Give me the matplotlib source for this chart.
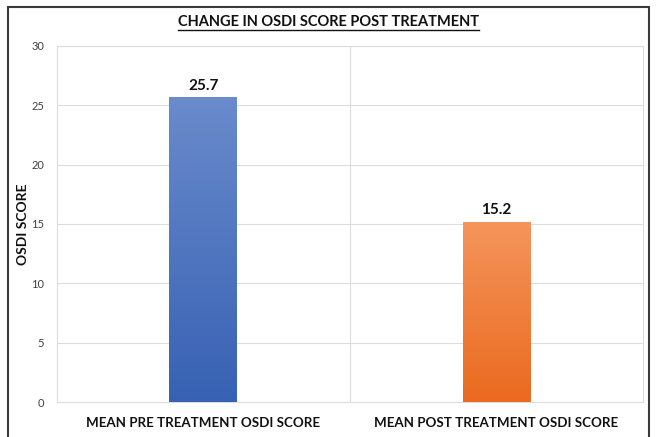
import numpy as np
import matplotlib.pyplot as plt
from matplotlib.colors import LinearSegmentedColormap
from matplotlib.patches import Rectangle

categories = ["MEAN PRE TREATMENT OSDI SCORE", "MEAN POST TREATMENT OSDI SCORE"]
scores = [25.7, 15.2]
yticks = [0, 5, 10, 15, 20, 25, 30]

# light top -> dark bottom, like the Excel gradient fill
gradients = [("#3761b3", "#6a8bcc"), ("#ea6a1f", "#f4955c")]

plt.rcParams["font.family"] = ["Lato", "DejaVu Sans"]

fig = plt.figure(figsize=(6.58, 4.37), dpi=100)
ax = fig.add_axes([0.086, 0.080, 0.891, 0.815])

x = np.arange(len(categories))
bars = ax.bar(x, scores, width=0.23, color="none", zorder=3)

# gradient fill clipped to each bar
for bar, (dark, light) in zip(bars, gradients):
    cmap = LinearSegmentedColormap.from_list("g", [dark, light])
    grad = np.linspace(0, 1, 256).reshape(-1, 1)
    x0, w, h = bar.get_x(), bar.get_width(), bar.get_height()
    im = ax.imshow(grad, cmap=cmap, origin="lower", aspect="auto",
                   extent=[x0, x0 + w, 0, h], zorder=3)
    im.set_clip_path(bar)

for bar, score in zip(bars, scores):
    ax.text(bar.get_x() + bar.get_width() / 2, bar.get_height() + 0.35,
            f"{score:.1f}", ha="center", va="bottom",
            fontsize=11, fontweight="bold", color="#111111")

ax.set_xlim(-0.5, len(categories) - 0.5)
ax.set_ylim(0, 30)
ax.set_yticks(yticks)
ax.set_xticks(x)
ax.set_xticklabels(categories, fontsize=9.6, fontweight="bold", color="#111111")
ax.tick_params(axis="y", labelsize=8, colors="#404040", length=0, pad=9)
ax.tick_params(axis="x", length=0, pad=11)

ax.grid(axis="y", color="#dcdcdc", linewidth=0.8, zorder=0)
ax.axvline(0.5, color="#dcdcdc", linewidth=0.8, zorder=0)
for s in ax.spines.values():
    s.set_color("#dcdcdc")
    s.set_linewidth(0.8)

ax.set_ylabel("OSDI SCORE", fontsize=10, fontweight="bold", color="#111111")
ax.yaxis.set_label_coords(-0.047, 0.5)

title = fig.text(0.499, 0.950, "CHANGE IN OSDI SCORE POST TREATMENT",
                 ha="center", va="center", fontsize=10.5, fontweight="bold",
                 color="#111111")
fig.canvas.draw()
bb = title.get_window_extent().transformed(fig.transFigure.inverted())
fig.add_artist(plt.Line2D([bb.x0, bb.x1], [bb.y0 - 0.002, bb.y0 - 0.002],
                          transform=fig.transFigure, color="#111111",
                          linewidth=1.0))

# outer chart frame
fig.add_artist(Rectangle((0.012, -0.05), 0.975, 1.034, transform=fig.transFigure,
                         fill=False, edgecolor="#3a3a3a", linewidth=1.5))

fig.savefig("out.png", dpi=100)
